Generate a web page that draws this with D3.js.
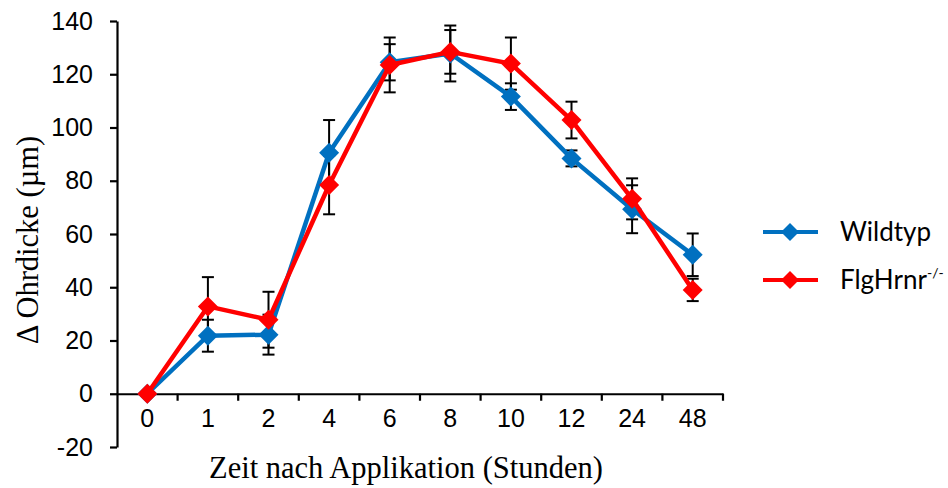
<!DOCTYPE html>
<html>
<head>
<meta charset="utf-8">
<script src="https://cdn.jsdelivr.net/npm/d3@7"></script>
<style>
  html, body { margin: 0; padding: 0; background: #fff; }
  svg { display: block; }
</style>
</head>
<body>
<svg id="chart" width="948" height="488"></svg>
<script>
// ---- data ----
const categories = ["0", "1", "2", "4", "6", "8", "10", "12", "24", "48"];
const wildtypValues = [0, 21.8, 22.2, 90.5, 124.5, 127.8, 111.6, 88.4, 69.3, 52.2];
const wildtypErrors = [0, 6.0, 7.5, 12.3, 6.8, 10.5, 5.0, 3.0, 9.0, 8.0];
const flgValues = [0, 32.8, 27.8, 78.4, 123.5, 128.4, 124.0, 102.8, 73.2, 39.0];
const flgErrors = [0, 11.0, 10.5, 11.0, 10.3, 8.2, 9.8, 6.9, 7.7, 4.2];
const yTicks = [-20, 0, 20, 40, 60, 80, 100, 120, 140];
const seriesNames = ["Wildtyp", "FlgHrnr"];

const series = [
  { name: seriesNames[0], values: wildtypValues, errors: wildtypErrors, color: "#0070C0" },
  { name: seriesNames[1], values: flgValues, errors: flgErrors, color: "#FF0000" }
];

const svg = d3.select("#chart");
const x = d3.scaleBand().domain(categories).range([117, 723]).paddingInner(0).paddingOuter(0);
const y = d3.scaleLinear().domain([-20, 140]).range([447, 21]);
const cx = c => x(c) + x.bandwidth() / 2;

// ---- y axis ----
const yAxis = svg.append("g")
  .attr("transform", "translate(117,0)")
  .call(d3.axisLeft(y).tickValues(yTicks).tickSize(7).tickSizeOuter(0).tickPadding(17).tickFormat(d => String(d)));
yAxis.select(".domain").attr("stroke", "#000").attr("stroke-width", 2.2);
yAxis.selectAll(".tick line").attr("stroke", "#000").attr("stroke-width", 2.2);
yAxis.selectAll(".tick text")
  .attr("font-family", "'Liberation Sans', Arial, sans-serif")
  .attr("font-size", 25).attr("fill", "#000");

// ---- x axis (at y=0) ----
const xAxis = svg.append("g")
  .attr("transform", `translate(0,${y(0)})`)
  .call(d3.axisBottom(x).tickSize(0).tickSizeOuter(0).tickPadding(15));
xAxis.select(".domain").attr("stroke", "#000").attr("stroke-width", 2.2);
xAxis.selectAll(".tick text")
  .attr("font-family", "'Liberation Sans', Arial, sans-serif")
  .attr("font-size", 25).attr("fill", "#000");
xAxis.selectAll(".boundary")
  .data(categories)
  .enter().append("line")
  .attr("x1", d => x(d) + x.bandwidth()).attr("x2", d => x(d) + x.bandwidth())
  .attr("y1", 0).attr("y2", 7)
  .attr("stroke", "#000").attr("stroke-width", 2.2);

// ---- error bars ----
const capW = 6;
series.forEach(s => {
  const g = svg.append("g");
  categories.forEach((c, i) => {
    const e = s.errors[i];
    if (!e) return;
    const v = s.values[i];
    const px = cx(c);
    g.append("line").attr("x1", px).attr("x2", px)
      .attr("y1", y(v - e)).attr("y2", y(v + e))
      .attr("stroke", "#000").attr("stroke-width", 2);
    [v - e, v + e].forEach(t => {
      g.append("line").attr("x1", px - capW).attr("x2", px + capW)
        .attr("y1", y(t)).attr("y2", y(t))
        .attr("stroke", "#000").attr("stroke-width", 2);
    });
  });
});

// ---- lines + markers ----
const diamondPath = r => `M0,${-r}L${r},0L0,${r}L${-r},0Z`;
const line = d3.line().x((d, i) => cx(categories[i])).y(d => y(d));
series.forEach(s => {
  svg.append("path").datum(s.values)
    .attr("d", line).attr("fill", "none")
    .attr("stroke", s.color).attr("stroke-width", 4.5).attr("stroke-linejoin", "round");
  svg.append("g").selectAll("path")
    .data(s.values).enter().append("path")
    .attr("d", diamondPath(10))
    .attr("transform", (d, i) => `translate(${cx(categories[i])},${y(d)})`)
    .attr("fill", s.color);
});

// ---- axis titles ----
svg.append("text")
  .attr("x", 406).attr("y", 478)
  .attr("text-anchor", "middle")
  .attr("font-family", "'Liberation Serif', 'Times New Roman', serif")
  .attr("font-size", 30.5).attr("fill", "#000")
  .text("Zeit nach Applikation (Stunden)");
svg.append("text")
  .attr("transform", "translate(38,240) rotate(-90)")
  .attr("text-anchor", "middle")
  .attr("font-family", "'Liberation Serif', 'Times New Roman', serif")
  .attr("font-size", 30.5).attr("fill", "#000")
  .text("\u0394 Ohrdicke (\u00B5m)");

// ---- legend ----
const legY = [232, 280];
series.forEach((s, i) => {
  const g = svg.append("g").attr("transform", `translate(0,${legY[i]})`);
  g.append("line").attr("x1", 763).attr("x2", 818).attr("y1", 0).attr("y2", 0)
    .attr("stroke", s.color).attr("stroke-width", 4);
  g.append("path").attr("d", diamondPath(9)).attr("transform", "translate(790,0)").attr("fill", s.color);
  const t = g.append("text").attr("x", 840).attr("y", 9)
    .attr("font-family", "Lato, 'Open Sans', sans-serif")
    .attr("font-size", 26).attr("fill", "#000")
    .text(s.name);
  if (i === 1) {
    t.append("tspan").attr("font-size", 14).attr("dy", -11).text("-/-");
  }
});
</script>
</body>
</html>
